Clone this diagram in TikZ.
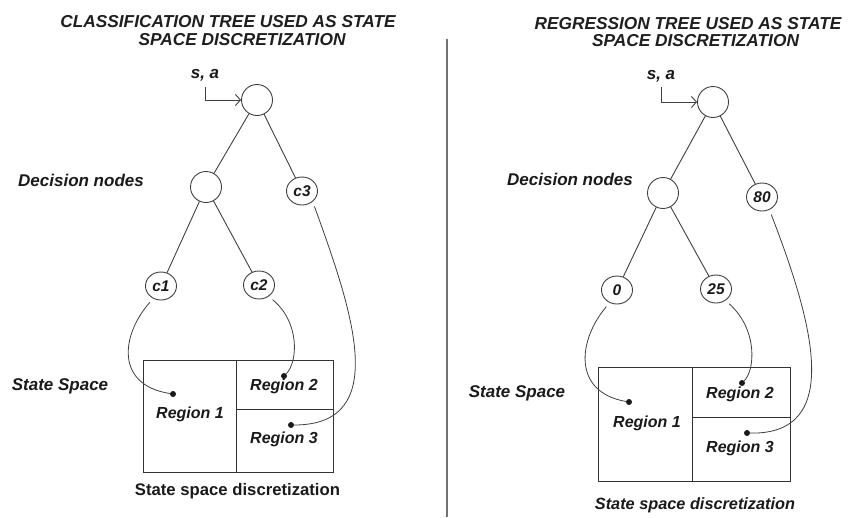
\documentclass[tikz,border=0pt]{standalone}
\usepackage{fontspec}
\setmainfont{Liberation Sans}
\usetikzlibrary{shapes.geometric,arrows.meta}
\definecolor{ink}{HTML}{1A1A1A}
\definecolor{edge}{HTML}{404040}
\begin{document}
\begin{tikzpicture}[x=1pt,y=-1pt,
  ln/.style={draw=edge, line width=0.9pt},
  dnode/.style={circle, draw=edge, line width=0.9pt, minimum size=31pt, inner sep=0pt},
  lnode/.style={ellipse, draw=edge, line width=0.9pt, minimum width=31pt, minimum height=28pt, inner sep=0pt, font=\fontsize{15.5}{17}\selectfont\bfseries\itshape, text=ink},
  lbl/.style={anchor=base, inner sep=0pt, font=\fontsize{17}{20}\selectfont\bfseries\itshape, text=ink},
  reg/.style={anchor=base, inner sep=0pt, font=\fontsize{16}{18}\selectfont\bfseries\itshape, text=ink},
  ttl/.style={anchor=base, inner sep=0pt, font=\fontsize{17.3}{20}\selectfont\bfseries\itshape, text=black!88},
  dotn/.style={circle, fill=ink, inner sep=0pt, minimum size=6pt},
  link/.style={draw=edge, line width=0.8pt, shorten <=5pt},
  box/.style={draw=black!80, line width=1pt},
  inarrow/.style={draw=edge, line width=0.9pt, -{Straight Barb[length=5pt,width=11pt]}},
]
\useasboundingbox[fill=white] (0,0) rectangle (849,517);

% ---------------- LEFT PANEL ----------------
\node[ttl] (t1a) at (228,27) {CLASSIFICATION TREE USED AS STATE};
\node[ttl] (t1b) at (242,45) {SPACE DISCRETIZATION};

\node[lbl] (sa1) at (205,78) {s, a};
\coordinate (sa1s) at (205,87);
\node[dnode] (r1) at (257,100) {};
\draw[inarrow] (sa1s) |- (r1.west);

\node[lbl] (dn1) at (81,186) {Decision nodes};
\node[dnode] (d1) at (206,187) {};
\node[lnode] (c3) at (302,191) {c3};
\node[lnode] (c1) at (161,286) {c1};
\node[lnode] (c2) at (259,285) {c2};
\draw[ln] (r1) -- (d1);
\draw[ln] (r1) -- (c3);
\draw[ln] (d1) -- (c1);
\draw[ln] (d1) -- (c2);

\draw[box] (143,360) rectangle (333,472);
\draw[box] (236,360) -- (236,472);
\draw[box] (236,409) -- (333,409);

\node[lbl] (ss1) at (60,390) {State Space};
\node[reg] (g11) at (190,418) {Region 1};
\node[reg] (g12) at (284,390) {Region 2};
\node[reg] (g13) at (284,443) {Region 3};
\node[anchor=base, inner sep=0pt, font=\fontsize{16.7}{20}\selectfont\bfseries, text=ink] (sd1) at (237.5,495) {State space discretization};

\node[dotn] (p11) at (173,394) {};
\node[dotn] (p12) at (284,376) {};
\node[dotn] (p13) at (291,425) {};

\draw[link] (c1.-122) .. controls (121,335) and (115,385) .. (p11);
\draw[link] (c2.-50) .. controls (300,322) and (298,362) .. (p12);
\draw[link] (c3.-45) .. controls (352,310) and (392,425) .. (p13);

% ---------------- DIVIDER ----------------
\coordinate (vt) at (447,39);
\coordinate (vb) at (447,517);
\draw[draw=black!55, line width=2pt] (vt) -- (vb);

% ---------------- RIGHT PANEL ----------------
\node[ttl] (t2a) at (688,29) {REGRESSION TREE USED AS STATE};
\node[ttl] (t2b) at (695.5,46) {SPACE DISCRETIZATION};

\node[lbl] (sa2) at (661,79) {s, a};
\coordinate (sa2s) at (661,87);
\node[dnode] (r2) at (713,102) {};
\draw[inarrow] (sa2s) |- (r2.west);

\node[lbl] (dn2) at (570,185) {Decision nodes};
\node[dnode] (d2) at (663,193) {};
\node[lnode] (n80) at (762,197) {80};
\node[lnode] (n0) at (617,290) {0};
\node[lnode] (n25) at (716,289) {25};
\draw[ln] (r2) -- (d2);
\draw[ln] (r2) -- (n80);
\draw[ln] (d2) -- (n0);
\draw[ln] (d2) -- (n25);

\draw[box] (598,367) rectangle (790,481);
\draw[box] (692,367) -- (692,481);
\draw[box] (692,417) -- (790,417);

\node[lbl] (ss2) at (517,397) {State Space};
\node[reg] (g21) at (647,427) {Region 1};
\node[reg] (g22) at (740,398) {Region 2};
\node[reg] (g23) at (740,452) {Region 3};
\node[anchor=base, inner sep=0pt, font=\fontsize{16.3}{20}\selectfont\bfseries\itshape, text=ink] (sd2) at (695,509) {State space discretization};

\node[dotn] (p21) at (629,402) {};
\node[dotn] (p22) at (742,383) {};
\node[dotn] (p23) at (747,433) {};

\draw[link] (n0.-120) .. controls (578,340) and (572,392) .. (p21);
\draw[link] (n25.-50) .. controls (758,330) and (755,370) .. (p22);
\draw[link] (n80.-60) .. controls (812,320) and (845,435) .. (p23);
\end{tikzpicture}
\end{document}
